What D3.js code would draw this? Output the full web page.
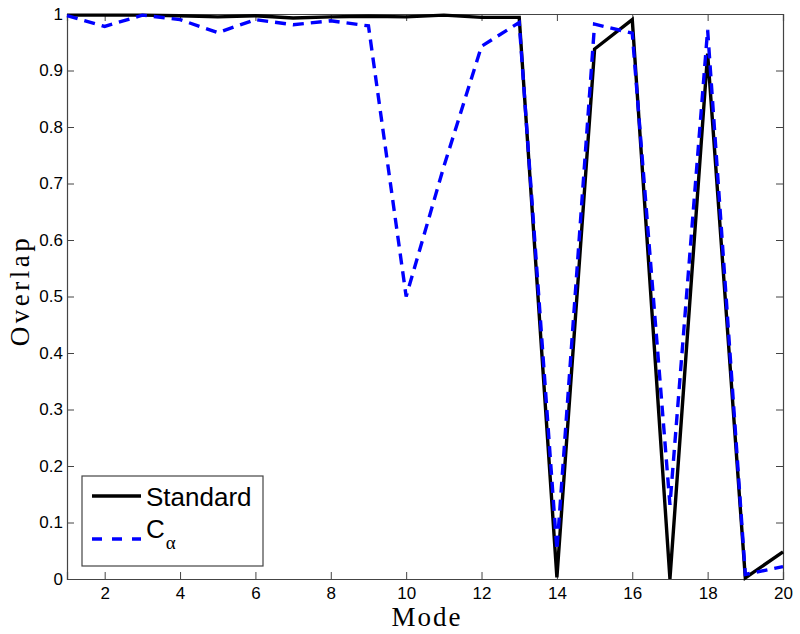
<!DOCTYPE html>
<html>
<head>
<meta charset="utf-8">
<script src="https://cdn.jsdelivr.net/npm/d3@7"></script>
<style>
  html, body { margin: 0; padding: 0; background: #fff; }
  svg { display: block; }
</style>
</head>
<body>
<svg id="chart" width="800" height="634"></svg>
<script>
// ---- data ----
const modes = [1,2,3,4,5,6,7,8,9,10,11,12,13,14,15,16,17,18,19,20];
const standard = [0.998,0.998,0.998,0.997,0.995,0.997,0.993,0.995,0.996,0.995,0.998,0.994,0.994,0.003,0.938,0.99,0.0,0.93,0.002,0.048];
const calpha   = [0.997,0.978,0.998,0.99,0.967,0.99,0.981,0.988,0.979,0.5,0.73,0.943,0.985,0.051,0.982,0.966,0.131,0.972,0.008,0.022];
const xTicks = [2,4,6,8,10,12,14,16,18,20];
const yTicks = [0,0.1,0.2,0.3,0.4,0.5,0.6,0.7,0.8,0.9,1];
const seriesNames = ["Standard", "C"];

// ---- layout ----
const svg = d3.select("#chart");
const L = 67, R = 783, T = 14, B = 579;
const x = d3.scaleLinear().domain([1,20]).range([L,R]);
const y = d3.scaleLinear().domain([0,1]).range([B,T]);
const axisColor = "#444";
const tickFont = "'Liberation Sans', Arial, Helvetica, sans-serif";

// axes
const gx = svg.append("g").attr("transform", `translate(0,${B})`)
  .call(d3.axisBottom(x).tickValues(xTicks).tickSize(-7).tickPadding(8).tickFormat(d3.format("d")));
const gxTop = svg.append("g").attr("transform", `translate(0,${T})`)
  .call(d3.axisTop(x).tickValues(xTicks).tickSize(-7).tickFormat(""));
const gy = svg.append("g").attr("transform", `translate(${L},0)`)
  .call(d3.axisLeft(y).tickValues(yTicks).tickSize(-7).tickPadding(4).tickFormat(d3.format("~g")));
const gyR = svg.append("g").attr("transform", `translate(${R},0)`)
  .call(d3.axisRight(y).tickValues(yTicks).tickSize(-7).tickFormat(""));

[gx, gxTop, gy, gyR].forEach(g => {
  g.select(".domain").attr("stroke", axisColor).attr("stroke-width", 1.2);
  g.selectAll(".tick line").attr("stroke", axisColor).attr("stroke-width", 1);
  g.selectAll(".tick text").attr("fill", "#000").style("font-family", tickFont).style("font-size", "17px");
});

// lines
const line = d3.line().x((d,i) => x(modes[i])).y(d => y(d));
svg.append("path").datum(standard)
  .attr("d", line).attr("fill", "none").attr("stroke", "#000")
  .attr("stroke-width", 3.4).attr("stroke-linejoin", "miter");
svg.append("path").datum(calpha)
  .attr("d", line).attr("fill", "none").attr("stroke", "#0000ff")
  .attr("stroke-width", 3.4).attr("stroke-dasharray", "11,7");

// axis labels
const serif = "'Liberation Serif', 'DejaVu Serif', Times, serif";
svg.append("text").attr("x", (L+R)/2 + 2).attr("y", 626).attr("text-anchor", "middle")
  .style("font-family", serif).style("font-size", "27px").style("letter-spacing", "2px")
  .text("Mode");
svg.append("text").attr("transform", `translate(29,${(T+B)/2 - 6}) rotate(-90)`).attr("text-anchor", "middle")
  .style("font-family", serif).style("font-size", "27px").style("letter-spacing", "3.5px")
  .text("Overlap");

// legend
const lg = svg.append("g");
lg.append("rect").attr("x", 82).attr("y", 476).attr("width", 181).attr("height", 90)
  .attr("fill", "#fff").attr("stroke", axisColor).attr("stroke-width", 1.2);
lg.append("line").attr("x1", 92).attr("x2", 141).attr("y1", 496).attr("y2", 496)
  .attr("stroke", "#000").attr("stroke-width", 3.4);
lg.append("line").attr("x1", 92).attr("x2", 141).attr("y1", 539).attr("y2", 539)
  .attr("stroke", "#0000ff").attr("stroke-width", 3.4).attr("stroke-dasharray", "10,10");
lg.append("text").attr("x", 146).attr("y", 506)
  .style("font-family", tickFont).style("font-size", "26px").text(seriesNames[0]);
const ct = lg.append("text").attr("x", 146).attr("y", 538)
  .style("font-family", tickFont).style("font-size", "26px");
ct.append("tspan").text(seriesNames[1]);
ct.append("tspan").attr("dy", 11).attr("dx", 1).style("font-family", serif).style("font-size", "19px").text("α");
</script>
</body>
</html>
